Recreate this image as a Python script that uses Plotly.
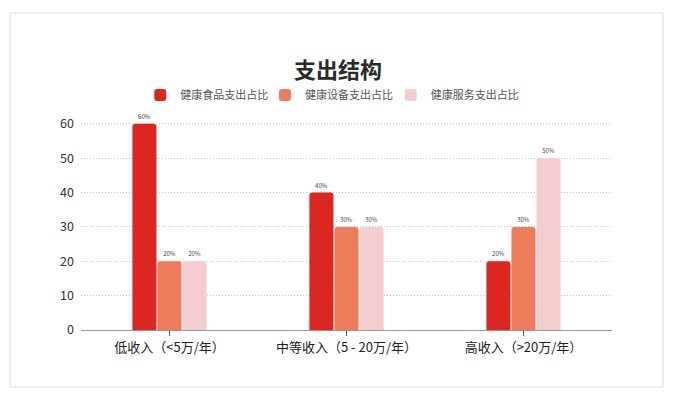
import plotly.graph_objects as go

categories = ["低收入（<5万/年）", "中等收入（5 - 20万/年）", "高收入（>20万/年）"]
series_names = ["健康食品支出占比", "健康设备支出占比", "健康服务支出占比"]
food = [60, 40, 20]
device = [20, 30, 30]
service = [20, 30, 50]
colors = ["#dc2620", "#ef7b5d", "#f4cdcf"]
y_ticks = [0, 10, 20, 30, 40, 50, 60]

FONT = "Noto Sans CJK SC"
OFF = 8  # page body margin offset

W, H = 660, 381
PL, PR, PT, PB = 81, 612, 117, 330  # plot area in page pixels
L, R = PL - OFF, W - (PR - OFF)
T, B = PT - OFF, H - (PB - OFF)
pw, ph = W - L - R, H - T - B

def px_x(x):
    return (x - OFF - L) / pw

def px_y(y):
    return (H - B - (y - OFF)) / ph

legend_names = ["legend", "legend2", "legend3"]
legend_left = [140.25, 265, 390.75]  # page px of legend item start

fig = go.Figure()
for name, vals, col, lg in zip(series_names, [food, device, service], colors, legend_names):
    fig.add_trace(go.Bar(
        x=categories, y=vals, name=name, legend=lg,
        marker=dict(color=col, line=dict(width=0)),
        texttemplate="%{y}%", textposition="outside",
        textfont=dict(size=6, color="#444", family=FONT),
        cliponaxis=False,
    ))

legends = {}
for lg, lx in zip(legend_names, legend_left):
    legends[lg] = dict(orientation="h", x=px_x(lx), xanchor="left", xref="paper",
                       y=px_y(95), yanchor="middle", yref="paper",
                       font=dict(size=11, color="#555", family=FONT),
                       itemwidth=30, bgcolor="rgba(0,0,0,0)", borderwidth=0)

fig.update_layout(
    width=W, height=H,
    margin=dict(l=L, r=R, t=T, b=B),
    paper_bgcolor="white", plot_bgcolor="white",
    font=dict(family=FONT, color="#333"),
    barmode="group", bargap=0.575, bargroupgap=0.04,
    barcornerradius=3,
    title=dict(text="<b>支出结构</b>", x=0.5, xanchor="center", xref="container",
               y=1 - (70 - OFF) / H, yanchor="middle", yref="container",
               font=dict(size=22, color="#2a2a2a", family=FONT)),
    showlegend=True,
    xaxis=dict(showline=True, linecolor="#999", linewidth=1,
               ticks="outside", ticklen=5, tickcolor="#555",
               tickfont=dict(size=13, color="#222", family=FONT),
               showgrid=False, fixedrange=True),
    yaxis=dict(range=[0, 62], tickvals=y_ticks, showline=False,
               showgrid=True, gridcolor="#c4c4c4", griddash="1px,2px", gridwidth=1,
               zeroline=False, ticks="", ticklabelstandoff=6,
               tickfont=dict(size=12.5, color="#333", family=FONT)),
    shapes=[dict(type="rect", xref="paper", yref="paper",
                 x0=px_x(10), x1=px_x(663), y0=px_y(387), y1=px_y(13),
                 line=dict(color="#dddddd", width=1), fillcolor="rgba(0,0,0,0)",
                 layer="below")],
    **legends,
)

fig.write_html("out.html")
